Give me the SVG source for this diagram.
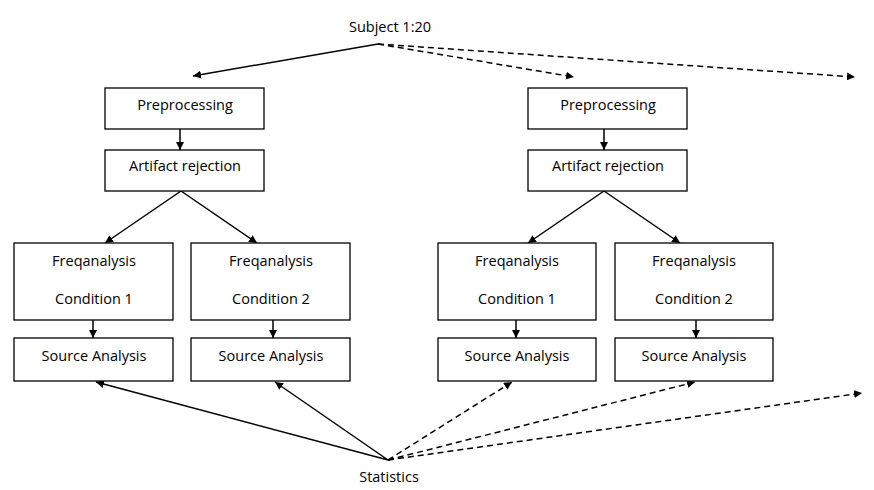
<svg xmlns="http://www.w3.org/2000/svg" width="874" height="490" viewBox="0 0 874 490">
<defs>
<style>
.box{fill:#fff;stroke:#000;stroke-width:1.3}
.t{font-family:"Open Sans","Liberation Sans",sans-serif;font-size:14.5px;fill:#000;text-anchor:middle}
.c{stroke:#000;stroke-width:1.5;fill:none}
.d{stroke-dasharray:6 4}
</style>
<marker id="ah" viewBox="0 0 10 10" refX="10" refY="5" markerWidth="8" markerHeight="8" orient="auto" markerUnits="userSpaceOnUse">
<path d="M0,0 L10,5 L0,10 z" fill="#000"/>
</marker>
</defs>
<rect width="874" height="490" fill="#fff"/>
<g id="connectors">
<line class="c" x1="378" y1="44" x2="193" y2="76" marker-end="url(#ah)"/>
<line class="c d" x1="378" y1="44" x2="574" y2="77" marker-end="url(#ah)"/>
<line class="c d" x1="378" y1="44" x2="855" y2="77" marker-end="url(#ah)"/>
<line class="c" x1="180" y1="129" x2="180" y2="150" marker-end="url(#ah)"/>
<line class="c" x1="604" y1="129" x2="604" y2="150" marker-end="url(#ah)"/>
<line class="c" x1="181" y1="191" x2="105" y2="243" marker-end="url(#ah)"/>
<line class="c" x1="181" y1="191" x2="257" y2="243" marker-end="url(#ah)"/>
<line class="c" x1="604" y1="191" x2="528" y2="243" marker-end="url(#ah)"/>
<line class="c" x1="604" y1="191" x2="680" y2="243" marker-end="url(#ah)"/>
<line class="c" x1="93" y1="320" x2="93" y2="338" marker-end="url(#ah)"/>
<line class="c" x1="273" y1="320" x2="273" y2="338" marker-end="url(#ah)"/>
<line class="c" x1="516" y1="320" x2="516" y2="338" marker-end="url(#ah)"/>
<line class="c" x1="696" y1="320" x2="696" y2="338" marker-end="url(#ah)"/>
<line class="c" x1="388" y1="460" x2="96" y2="382" marker-end="url(#ah)"/>
<line class="c" x1="388" y1="460" x2="275" y2="382" marker-end="url(#ah)"/>
<line class="c d" x1="388" y1="460" x2="512" y2="382" marker-end="url(#ah)"/>
<line class="c d" x1="388" y1="460" x2="695" y2="382" marker-end="url(#ah)"/>
<line class="c d" x1="388" y1="460" x2="862" y2="393" marker-end="url(#ah)"/>
</g>
<g id="subject"><text class="t" x="390" y="32">Subject 1:20</text></g>
<g id="statistics"><text class="t" x="389" y="482">Statistics</text></g>
<g id="pre1"><rect class="box" x="105" y="88" width="159" height="41"/><text class="t" x="185" y="110">Preprocessing</text></g>
<g id="art1"><rect class="box" x="105" y="150" width="159" height="41"/><text class="t" x="185" y="171">Artifact rejection</text></g>
<g id="pre2"><rect class="box" x="528" y="88" width="159" height="41"/><text class="t" x="608" y="110">Preprocessing</text></g>
<g id="art2"><rect class="box" x="528" y="150" width="159" height="41"/><text class="t" x="608" y="171">Artifact rejection</text></g>
<g id="freq1"><rect class="box" x="14" y="243" width="159" height="77"/><text class="t" x="94" y="266">Freqanalysis</text><text class="t" x="94" y="304">Condition 1</text></g>
<g id="freq2"><rect class="box" x="191" y="243" width="159" height="77"/><text class="t" x="271" y="266">Freqanalysis</text><text class="t" x="271" y="304">Condition 2</text></g>
<g id="freq3"><rect class="box" x="438" y="243" width="158" height="77"/><text class="t" x="517" y="266">Freqanalysis</text><text class="t" x="517" y="304">Condition 1</text></g>
<g id="freq4"><rect class="box" x="615" y="243" width="158" height="77"/><text class="t" x="694" y="266">Freqanalysis</text><text class="t" x="694" y="304">Condition 2</text></g>
<g id="src1"><rect class="box" x="14" y="338" width="159" height="43"/><text class="t" x="94" y="361">Source Analysis</text></g>
<g id="src2"><rect class="box" x="191" y="338" width="159" height="43"/><text class="t" x="271" y="361">Source Analysis</text></g>
<g id="src3"><rect class="box" x="438" y="338" width="158" height="43"/><text class="t" x="517" y="361">Source Analysis</text></g>
<g id="src4"><rect class="box" x="615" y="338" width="158" height="43"/><text class="t" x="694" y="361">Source Analysis</text></g>
</svg>
